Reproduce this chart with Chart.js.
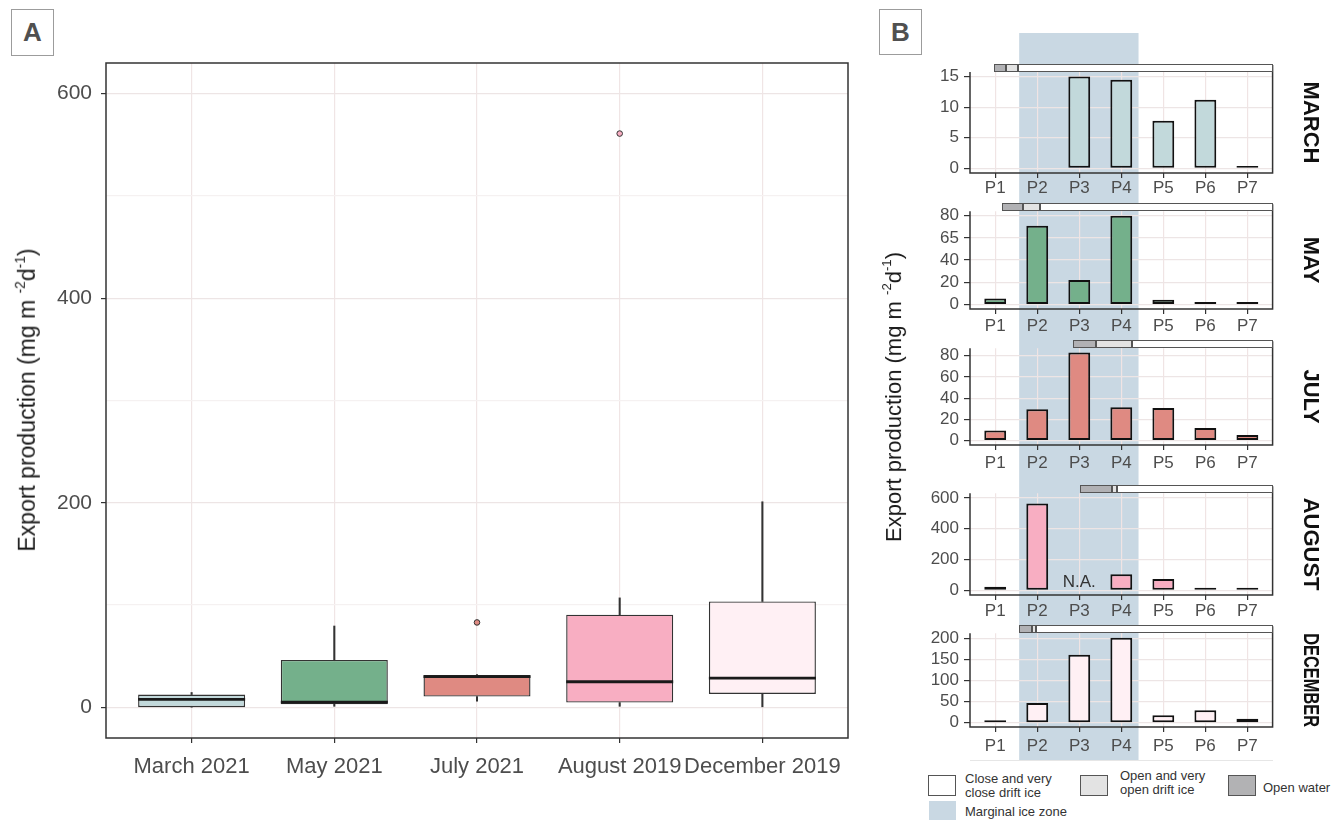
<!DOCTYPE html>
<html>
<head>
<meta charset="utf-8">
<title>Export production</title>
<script src="https://cdn.jsdelivr.net/npm/chart.js@4/dist/chart.umd.min.js"></script>
<style>
  html, body { margin: 0; padding: 0; background: #fff; }
  body { width: 1341px; height: 820px; position: relative; overflow: hidden;
         font-family: "Liberation Sans", Arial, Helvetica, sans-serif; }
  canvas { position: absolute; display: block; }
  .tag { position: absolute; box-sizing: border-box; border: 1.5px solid #9c9c9c;
         font-weight: bold; font-size: 26px; color: #505050; text-align: center; }
  .ytitle { position: absolute; white-space: nowrap; color: #1a1a1a;
            transform: translate(-50%, -50%) rotate(-90deg); }
  .ytitle sup { font-size: 0.6em; vertical-align: 0.75em; }
  .key { position: absolute; box-sizing: border-box; }
  .keytext { position: absolute; font-size: 13px; line-height: 14px; color: #333; white-space: nowrap; }
</style>
</head>
<body>

<div class="tag" style="left:11px;top:9px;width:43px;height:47px;line-height:45px;">A</div>
<div class="tag" style="left:879px;top:9px;width:43px;height:46px;line-height:44px;">B</div>

<canvas id="boxA" width="870" height="820" style="left:0;top:0;"></canvas>

<canvas id="mon0" width="471" height="163" style="left:870px;top:33px;"></canvas>
<canvas id="mon1" width="471" height="137" style="left:870px;top:196px;"></canvas>
<canvas id="mon2" width="471" height="145" style="left:870px;top:333px;"></canvas>
<canvas id="mon3" width="471" height="140" style="left:870px;top:478px;"></canvas>
<canvas id="mon4" width="471" height="142" style="left:870px;top:618px;"></canvas>

<div class="ytitle" style="left:27px;top:400px;font-size:23px;">Export production (mg m <sup>-2</sup>d<sup>-1</sup>)</div>
<div class="ytitle" style="left:893px;top:397px;font-size:22px;">Export production (mg m <sup>-2</sup>d<sup>-1</sup>)</div>

<!-- ice legend -->
<div style="position:absolute;left:970px;top:760px;width:303px;height:0;border-top:1px solid #e6e6e6;"></div>
<div class="key" style="left:928px;top:775px;width:28px;height:21px;background:#fff;border:1px solid #555;"></div>
<div class="keytext" style="left:965px;top:772px;">Close and very<br>close drift ice</div>
<div class="key" style="left:1080px;top:775px;width:28px;height:21px;background:#e3e3e3;border:1px solid #555;"></div>
<div class="keytext" style="left:1120px;top:769px;">Open and very<br>open drift ice</div>
<div class="key" style="left:1228px;top:775px;width:28px;height:21px;background:#b2b2b4;border:1px solid #555;"></div>
<div class="keytext" style="left:1263px;top:781px;">Open water</div>
<div class="key" style="left:929px;top:801px;width:27px;height:19px;background:#c9d8e3;"></div>
<div class="keytext" style="left:965px;top:805px;">Marginal ice zone</div>

<script>
// ---------- Panel A: export production per cruise (box summaries) ----------
const cruises      = ['March 2021', 'May 2021', 'July 2021', 'August 2019', 'December 2019'];
const boxLow       = [0,    1,    6,    1,    0.5];
const boxQ1        = [0.1,  3,    10.5, 4.6,  13];
const boxMedian    = [7.8,  5,    30,   25,   28.5];
const boxQ3        = [12.5, 46.3, 31.5, 90.6, 103.5];
const boxHigh      = [14.5, 79.5, 32,   107,  201];
const outlierCruise = ['July 2021', 'August 2019'];
const outlierValue  = [83, 561];
const cruiseColors  = ['#c2d9db', '#74b08b', '#df8a82', '#f8aec2', '#fff0f4'];
const panelATicks   = [0, 100, 200, 300, 400, 500, 600];
const panelALabelled = [0, 200, 400, 600];

// ---------- Panel B: export production per station ----------
const stations       = ['P1', 'P2', 'P3', 'P4', 'P5', 'P6', 'P7'];
const marchValues    = [null, null, 15,   14.5, 7.8,  11.2, 0.1];
const mayValues      = [5.5,  71,   22,   80,   4.3,  0.6,  1.8];
const julyValues     = [9.5,  29.5, 83,   31.5, 30.7, 12,   5.2];
const augustValues   = [23,   564,  null, 105,  74,   8,    1.5];
const decemberValues = [0.5,  47,   161,  201.5, 18,  29.5, 9.5];
const augustNotAvailable = ['P3'];

const marchTicks    = [0, 5, 10, 15];
const mayTicks      = [0, 20, 40, 60, 80];
const mayTickLabels = ['0', '20', '40', '65', '80'];
const julyTicks     = [0, 20, 40, 60, 80];
const augustTicks   = [0, 200, 400, 600];
const decemberTicks = [0, 50, 100, 150, 200];

// ice cover along the section (station units): where open water, open drift ice
// and close drift ice begin; close drift ice runs to the end of the section
const openWaterFrom  = [0.98, 1.17, 2.86, 3.02, 1.56];
const openDriftFrom  = [1.26, 1.65, 3.40, 3.77, 1.87];
const closeDriftFrom = [1.55, 2.07, 4.25, 3.89, 1.97];
const marginalIceZone = [1.57, 4.41];

Chart.defaults.font.family = '"Liberation Sans", Arial, Helvetica, sans-serif';
Chart.defaults.color = '#4d4d4d';
Chart.defaults.animation = false;
Chart.defaults.plugins.legend.display = false;
Chart.defaults.plugins.tooltip.enabled = false;

const INK = '#333333';

// ---------- Panel A ----------
const cruiseX = cruises.map((_, i) => i + 1);

const boxExtras = {
  id: 'boxExtras',
  afterDatasetsDraw(chart) {
    const { ctx, chartArea: a, scales: { y } } = chart;
    const boxes = chart.getDatasetMeta(0).data;
    ctx.save();
    ctx.strokeStyle = '#1a1a1a';
    ctx.lineWidth = 2.8;
    boxes.forEach((bar, i) => {
      const py = y.getPixelForValue(boxMedian[i]);
      ctx.beginPath();
      ctx.moveTo(bar.x - bar.width / 2, py);
      ctx.lineTo(bar.x + bar.width / 2, py);
      ctx.stroke();
    });
    ctx.strokeStyle = INK;
    ctx.lineWidth = 1.5;
    ctx.strokeRect(a.left, a.top, a.right - a.left, a.bottom - a.top);
    ctx.restore();
  }
};

new Chart(document.getElementById('boxA'), {
  type: 'bar',
  data: {
    datasets: [
      {
        data: cruiseX.map((x, i) => ({ x, y: [boxQ1[i], boxQ3[i]] })),
        backgroundColor: cruiseColors,
        borderColor: INK, borderWidth: 1.4, borderSkipped: false,
        barPercentage: 0.75, categoryPercentage: 1, grouped: false
      },
      {
        data: cruiseX.map((x, i) => ({ x, y: [boxQ3[i], boxHigh[i]] })),
        backgroundColor: INK, barThickness: 1.4, grouped: false
      },
      {
        data: cruiseX.map((x, i) => ({ x, y: [boxLow[i], boxQ1[i]] })),
        backgroundColor: INK, barThickness: 1.4, grouped: false
      },
      {
        type: 'scatter',
        data: outlierCruise.map((c, i) => ({ x: cruises.indexOf(c) + 1, y: outlierValue[i] })),
        pointRadius: 2.8, pointHoverRadius: 2.8,
        backgroundColor: outlierCruise.map(c => cruiseColors[cruises.indexOf(c)]),
        borderColor: INK, borderWidth: 1
      }
    ]
  },
  options: {
    responsive: false, devicePixelRatio: 1,
    layout: { padding: { top: 63, right: 22, left: 0, bottom: 0 } },
    scales: {
      x: {
        type: 'linear', min: 0.4, max: 5.6, offset: false,
        afterBuildTicks: s => { s.ticks = cruiseX.map(v => ({ value: v })); },
        afterFit: s => { s.height = 82; },
        ticks: { callback: v => cruises[v - 1], font: { size: 22 }, color: '#4d4d4d',
                 padding: 11, maxRotation: 0, minRotation: 0, autoSkip: false },
        grid: { color: '#f0e5e5', lineWidth: 1.2, tickLength: 5, tickColor: INK, offset: false },
        border: { display: false }
      },
      y: {
        type: 'linear', min: -30, max: 630,
        afterBuildTicks: s => { s.ticks = panelATicks.map(v => ({ value: v })); },
        afterFit: s => { s.width = 106; },
        ticks: { callback: v => panelALabelled.includes(v) ? String(v) : '',
                 font: { size: 21 }, color: '#4d4d4d', padding: 9 },
        grid: {
          color: c => panelALabelled.includes(c.tick && c.tick.value) ? '#ede5e5' : '#f5f1f1',
          lineWidth: 1.2, tickLength: 5,
          tickColor: c => panelALabelled.includes(c.tick && c.tick.value) ? INK : 'rgba(0,0,0,0)'
        },
        border: { display: false }
      }
    }
  },
  plugins: [boxExtras]
});

// ---------- Panel B ----------
const monthPanels = [
  { name: 'MARCH',    values: marchValues,    color: '#c2d9db', ticks: marchTicks,    labels: marchTicks.map(String),    min: -0.75, max: 15.75,
    padTop: 39, axisHeight: 23, labelPad: 0 },
  { name: 'MAY',      values: mayValues,      color: '#74b08b', ticks: mayTicks,      labels: mayTickLabels,             min: -4,    max: 84,
    padTop: 13, axisHeight: 24, labelPad: 2 },
  { name: 'JULY',     values: julyValues,     color: '#df8a82', ticks: julyTicks,     labels: julyTicks.map(String),     min: -4.15, max: 87.15,
    padTop: 10, axisHeight: 33, labelPad: 3 },
  { name: 'AUGUST',   values: augustValues,   color: '#f8aec2', ticks: augustTicks,   labels: augustTicks.map(String),   min: -30,   max: 630,
    padTop: 14, axisHeight: 23, labelPad: 1, missing: augustNotAvailable },
  { name: 'DECEMBER', values: decemberValues, color: '#fff0f4', ticks: decemberTicks, labels: decemberTicks.map(String), min: -10.1, max: 212.1,
    padTop: 9, axisHeight: 33, labelPad: 4 }
];

const stationX = stations.map((_, i) => i + 1);

// marginal ice zone band, behind grid and bars, across the whole canvas height
const iceZoneBand = {
  id: 'iceZoneBand',
  beforeDraw(chart) {
    const { ctx, scales: { x } } = chart;
    const x0 = x.getPixelForValue(marginalIceZone[0]);
    const x1 = x.getPixelForValue(marginalIceZone[1]);
    ctx.save();
    ctx.fillStyle = '#c9d8e3';
    ctx.fillRect(x0, 0, x1 - x0, chart.height);
    ctx.restore();
  }
};

// panel frame (left, bottom, right), the ice-cover strip and N.A. notes
const panelDecor = {
  id: 'panelDecor',
  afterDraw(chart, args, opts) {
    const { ctx, chartArea: a, scales: { x, y } } = chart;
    const k = opts.index;
    ctx.save();
    ctx.strokeStyle = INK;
    ctx.lineWidth = 1.5;
    ctx.beginPath();
    ctx.moveTo(a.left, a.top);
    ctx.lineTo(a.left, a.bottom);
    ctx.lineTo(a.right, a.bottom);
    ctx.lineTo(a.right, a.top - 7);
    ctx.stroke();

    const top = Math.round(a.top) - 7.5, h = 7;
    const segments = [
      [openWaterFrom[k], openDriftFrom[k], '#b1b1b4'],
      [openDriftFrom[k], closeDriftFrom[k], '#e3e3e3'],
      [closeDriftFrom[k], x.max, '#ffffff']
    ];
    ctx.lineWidth = 1;
    ctx.strokeStyle = '#555555';
    segments.forEach(([from, to, fill]) => {
      const p0 = Math.round(x.getPixelForValue(from)) + 0.5;
      const p1 = Math.round(x.getPixelForValue(to)) - 0.5;
      ctx.fillStyle = fill;
      ctx.fillRect(p0, top, p1 - p0, h);
      ctx.strokeRect(p0, top, p1 - p0, h);
    });

    (opts.missing || []).forEach(st => {
      const px = x.getPixelForValue(stations.indexOf(st) + 1);
      ctx.fillStyle = '#333';
      ctx.font = '17px "Liberation Sans", Arial, sans-serif';
      ctx.textAlign = 'center';
      ctx.textBaseline = 'middle';
      ctx.fillText('N.A.', px, y.getPixelForValue(0) - 8);
    });
    ctx.restore();
  }
};

monthPanels.forEach((m, k) => {
  const minor = m.ticks.slice(1).map((t, i) => (t + m.ticks[i]) / 2);
  const allTicks = m.ticks.concat(minor).sort((a, b) => a - b);
  const isMajor = v => m.ticks.includes(v);
  new Chart(document.getElementById('mon' + k), {
    type: 'bar',
    data: {
      datasets: [{
        data: stationX.map((x, i) => ({ x, y: m.values[i] })).filter(d => d.y !== null),
        backgroundColor: m.color,
        borderColor: '#111111', borderWidth: 2, borderSkipped: false,
        barPercentage: 0.52, categoryPercentage: 1, minBarLength: 2.5
      }]
    },
    options: {
      responsive: false, devicePixelRatio: 1,
      layout: { padding: { top: m.padTop, left: 0, right: 0, bottom: 0 } },
      plugins: {
        title: { display: true, text: m.name, position: 'right', fullSize: false,
                 font: { size: 22, weight: 'bold' }, color: '#111',
                 padding: { top: 18, bottom: 24 } },
        panelDecor: { index: k, missing: m.missing }
      },
      scales: {
        x: {
          type: 'linear', min: 0.4, max: 7.6, offset: false,
          afterBuildTicks: s => { s.ticks = stationX.map(v => ({ value: v })); },
          afterFit: s => { s.height = m.axisHeight; },
          ticks: { callback: v => stations[v - 1], font: { size: 17 }, color: '#4d4d4d',
                   padding: m.labelPad, maxRotation: 0, minRotation: 0, autoSkip: false },
          grid: { color: '#f0e4e4', lineWidth: 1.2, tickLength: 5, tickColor: INK, offset: false },
          border: { display: false }
        },
        y: {
          type: 'linear', min: m.min, max: m.max,
          afterBuildTicks: s => { s.ticks = allTicks.map(v => ({ value: v })); },
          afterFit: s => { s.width = 100; },
          ticks: { callback: v => isMajor(v) ? m.labels[m.ticks.indexOf(v)] : '',
                   font: { size: 17 }, color: '#4d4d4d', padding: 5 },
          grid: {
            color: c => isMajor(c.tick && c.tick.value) ? '#ede5e5' : '#f4efef',
            lineWidth: 1.2, tickLength: 6,
            tickColor: c => isMajor(c.tick && c.tick.value) ? INK : 'rgba(0,0,0,0)'
          },
          border: { display: false }
        }
      }
    },
    plugins: [iceZoneBand, panelDecor]
  });
});
</script>
</body>
</html>
